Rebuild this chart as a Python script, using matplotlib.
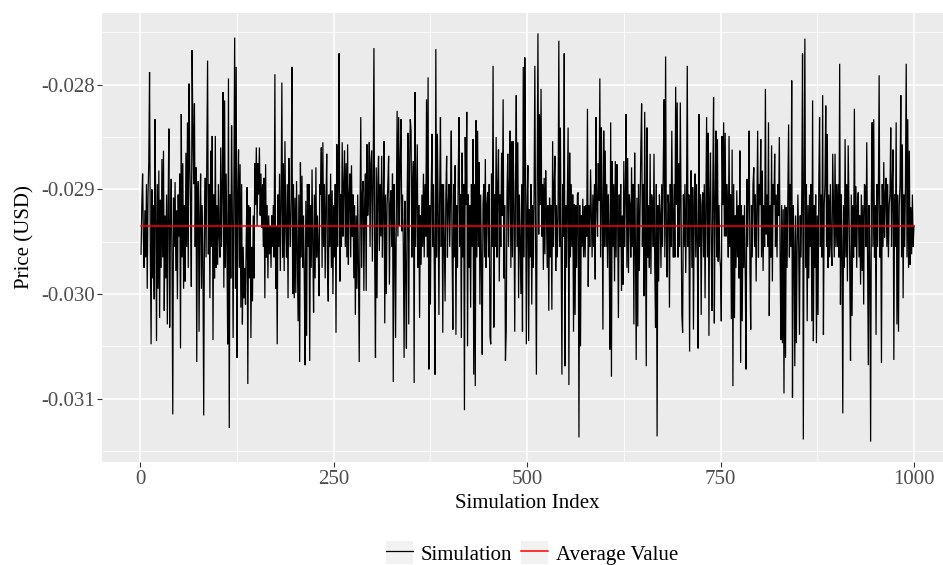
import numpy as np
import matplotlib
matplotlib.use("Agg")
import matplotlib.pyplot as plt
from matplotlib.patches import Rectangle
from matplotlib.lines import Line2D
from matplotlib.legend_handler import HandlerTuple

# ---------------- data ----------------
# simulated price = base_price + deviation * 1e-5 (USD)
base_price = -0.02935
average_value = -0.029353

dev_001_100 = [
    -27, 20, 50, -10, -40, 15, -30, 40, -60, 30,
    60, 147, -20, -113, 35, -50, 20, -70, 102, 10,
    -110, 40, -60, 53, -88, 25, -40, 64, -30, 72,
    -81, 10, -50, 30, -94, 20, 93, -97, 0, 45,
    -30, -180, 27, -20, 42, -43, 15, -70, 30, -10,
    50, -117, 107, -30, 60, -60, 20, -53, 70, -20,
    99, -40, 136, 60, 20, -58, 168, 90, 40, 117,
    -20, 56, -130, 30, 43, -101, 10, 50, -60, 20,
    -40, -181, 8, 46, -30, 60, 158, -27, 40, -69,
    72, -20, 86, -109, 30, -50, 86, -40, 20, -37]
dev_101_200 = [
    40, -10, -30, 75, -20, 40, 128, -59, 120, -40,
    50, -20, -113, 141, -193, 30, -50, 96, 10, -107,
    40, 180, -60, 152, -126, 30, 73, -40, 59, -78,
    40, -94, -20, -69, -40, -75, -10, 37, -151, 20,
    -50, 18, -107, -20, -72, 10, -50, 60, 20, 75,
    0, 60, 30, 75, 10, 50, -2, 40, -20, 46,
    -69, 59, -30, 20, -50, 10, -27, 0, -40, 10,
    -20, 20, -30, 145, -60, 0, -113, 30, -20, 50,
    -43, 20, 137, -30, 60, -43, 81, 0, -30, 40,
    -69, 65, 10, -20, 30, 152, -65, 40, -69, 27]
dev_201_300 = [
    -64, 43, -20, -91, 30, -130, 61, -30, 48, -40,
    10, -50, -133, 24, -105, 40, -20, 40, -129, 20,
    -40, 54, -20, -83, 30, -50, 56, -30, 10, -20,
    -67, 40, 30, 75, -40, 80, -20, 40, -50, 20,
    69, -40, -72, 30, -20, 50, -40, 34, -65, 20,
    -30, 40, -102, 78, -20, 40, 165, -53, 30, -20,
    80, -10, 40, 72, -20, 60, -30, 78, -37, 30,
    50, -30, 58, -10, 30, -50, 20, -85, 10, -60,
    30, -40, -130, 5, 104, -40, 30, 43, -62, 20,
    50, -62, 78, 10, 30, 80, -20, 60, 72, -34]
dev_301_400 = [
    40, 170, -30, -126, 56, -69, 40, 67, -24, 40,
    -10, 67, -30, 20, 81, -93, 30, -65, 20, 40,
    67, -56, 20, 34, -20, 50, -149, 40, -20, -107,
    20, 110, -10, 104, 0, 60, 102, -5, 30, -20,
    -126, 24, -40, -117, 30, 89, -94, 50, 102, 91,
    -30, 40, 62, -150, 128, -20, 30, 78, -40, 20,
    -88, 10, -37, 30, -20, 50, -30, 40, -10, 121,
    -30, 142, -137, 20, -75, 30, 88, -20, 40, -40,
    -142, 169, -30, 88, 20, -85, 30, 104, -20, 40,
    -102, 40, -20, -72, 30, 67, -30, 19, 40, -20]
dev_401_500 = [
    30, 91, -20, -99, 40, -30, 58, -104, 20, -40,
    50, 104, -20, 30, -107, 70, -30, 40, -176, 85,
    20, 109, -115, 30, -40, 20, -78, 40, -20, 83,
    -142, 40, -153, 101, -30, 91, -20, 61, -75, 30,
    -40, -123, 20, 40, -30, 64, -40, 20, 32, -30,
    40, -105, -113, 50, -20, 153, -97, 30, -20, 85,
    -30, 40, 73, -53, 30, -20, 70, 10, 121, -50,
    20, -129, -101, 30, 69, -20, 40, 91, -40, 81,
    -30, 81, 20, -101, 40, 125, -20, 80, -69, 30,
    -20, -65, 40, -101, 152, -30, 161, 58, -113, 20]
dev_501_600 = [
    58, -110, 16, -30, 40, -75, 20, -40, 30, 153,
    -20, -142, 40, 184, -8, 107, 20, 131, -10, 40,
    -42, 46, -27, 53, 10, -40, 20, -81, 27, -30,
    20, -80, 81, -20, 40, 67, -43, 20, -30, 10,
    177, -20, 94, -30, -142, 40, -10, 165, -134, 20,
    -40, 30, 94, -152, 70, -30, 40, -20, 30, -101,
    21, -85, 20, -40, 30, 32, -202, 20, -115, 10,
    -20, 26, -30, 19, -30, 20, -10, 112, -58, 20,
    -20, 54, 10, -30, 30, -20, 40, -51, 104, 20,
    -10, 60, 24, 141, -30, 94, 20, -99, 91, -20]
dev_601_700 = [
    72, -20, 40, -40, 30, -10, -118, 99, -144, 62,
    -20, 40, -53, 62, -30, 59, 10, -88, 30, -20,
    40, -62, 10, -56, 62, -20, 30, 107, -40, 65,
    -45, 30, 20, -30, 56, -20, 40, -94, 70, -20,
    -128, 27, -96, 40, -43, 20, 75, 117, -20, 40,
    -67, 109, -20, -134, 94, -30, 20, -40, 69, -46,
    30, 20, -20, 69, -40, -97, 40, -201, 20, -53,
    30, 11, -40, 40, -20, 56, 121, -30, 162, -10,
    -49, 30, 20, -78, 40, -20, 91, 10, -30, 40,
    -30, 133, 20, 118, -30, 60, -20, 118, 20, -85]
dev_701_800 = [
    -102, 30, -20, 40, -45, 20, 153, -20, 30, -120,
    20, 53, -40, 37, -99, 20, 50, -30, 40, -20,
    -117, 107, -20, 30, -85, 20, 32, -30, 40, -69,
    20, 104, -30, 89, -105, 30, 70, -20, -81, 40,
    123, -93, 20, 91, -30, 83, -34, 20, -30, -40,
    -91, 86, 20, 99, -10, 89, -10, 40, 20, -30,
    86, -20, 30, -89, 73, -153, 40, -88, 10, -40,
    34, -30, 20, -50, 72, -131, 20, -91, 10, -40,
    20, -50, -137, 45, -20, 30, 91, -40, -99, 20,
    -30, 40, 56, -20, 30, -53, 20, 91, -30, 40]
dev_801_900 = [
    20, 83, -30, 53, -43, 20, -20, 131, -8, 30,
    -20, 99, -86, 20, -30, 77, -53, 40, 20, 69,
    -20, 30, -30, 40, 10, 85, -30, -109, 20, -112,
    16, -160, 20, -126, 18, -40, 30, 97, -30, 40,
    -20, 139, -164, 20, -18, -134, 10, -112, -19, 30,
    -20, -104, 10, -30, 30, 165, -204, 40, 179, -40,
    40, -91, 20, -50, 30, -20, 40, -91, 120, -110,
    20, -40, 30, -112, 10, -85, 40, 104, -20, 30,
    -30, 125, -104, 20, 40, 115, -20, 88, -40, 30,
    -30, 40, -20, -38, 69, 20, -30, 69, -20, 40]
dev_901_1000 = [
    -20, 40, -30, 155, -75, 30, -20, -179, 20, -40,
    83, -30, 40, -53, 77, 20, -40, -129, 30, -86,
    20, -30, 112, -20, 38, -40, 20, 32, -30, 10,
    -56, 30, -43, 20, -75, 40, 38, -20, 80, -30,
    -133, 20, -40, -206, 30, 99, -20, 102, -30, 20,
    -104, 40, -20, 30, 144, -30, 20, -131, 40, -20,
    61, -11, 30, 46, -20, 40, -30, 20, 30, 94,
    -20, 40, 73, -128, 30, -20, 99, -94, 30, -101,
    20, 40, 125, -30, 78, -69, 30, -20, 40, 155,
    -30, 102, -40, 72, -37, 18, -27, 30, -20, 0]

x_ticks = [0, 250, 500, 750, 1000]
y_ticks = [-0.031, -0.030, -0.029, -0.028]
x_minor = [125, 375, 625, 875]
y_minor = [-0.0315, -0.0305, -0.0295, -0.0285, -0.0275]
legend_labels = ["Simulation", "Average Value"]

# ---------------- build series ----------------
dev = np.concatenate([dev_001_100, dev_101_200, dev_201_300, dev_301_400,
                      dev_401_500, dev_501_600, dev_601_700, dev_701_800,
                      dev_801_900, dev_901_1000]).astype(float)
price = base_price + dev * 1e-5
index = np.arange(1, len(price) + 1)

# ---------------- plot ----------------
plt.rcParams['font.family'] = ['Liberation Serif', 'DejaVu Serif']
plt.rcParams['axes.unicode_minus'] = False

W, H = 943, 565
fig = plt.figure(figsize=(W / 100, H / 100), dpi=100)
fig.patch.set_facecolor('white')
ax = fig.add_axes([102.4 / W, 1 - 462 / H, (952.6 - 102.4) / W, (462 - 13) / H])
ax.set_facecolor('#EBEBEB')
for s in ax.spines.values():
    s.set_visible(False)

ax.plot(index, price, color='black', lw=0.9, solid_joinstyle='miter')
ax.plot(index, np.full_like(price, average_value), color='#FF0000', lw=1.1)

xr = index.max() - index.min()
ax.set_xlim(index.min() - 0.05 * xr, index.max() + 0.05 * xr)
yr = price.max() - price.min()
ax.set_ylim(price.min() - 0.05 * yr, price.max() + 0.05 * yr)

ax.set_xticks(x_ticks)
ax.set_xticklabels([str(t) for t in x_ticks])
ax.set_yticks(y_ticks)
ax.set_yticklabels([f"{t:.3f}" for t in y_ticks])
ax.set_xticks(x_minor, minor=True)
ax.set_yticks(y_minor, minor=True)

ax.set_axisbelow(True)
ax.grid(which='major', color='white', lw=1.1)
ax.grid(which='minor', color='white', lw=0.55)
ax.tick_params(which='major', length=3.5, width=0.8, color='#333333',
               labelcolor='#4D4D4D', labelsize=15, pad=2)
ax.tick_params(which='minor', length=0)

ax.set_xlabel('Simulation Index', fontsize=15, labelpad=4, color='black')
ax.set_ylabel('Price (USD)', fontsize=15, labelpad=5, color='black')

handles = [
    (Rectangle((0, 0), 1, 1, facecolor='#F2F2F2', edgecolor='none'),
     Line2D([], [], color='black', lw=0.9)),
    (Rectangle((0, 0), 1, 1, facecolor='#F2F2F2', edgecolor='none'),
     Line2D([], [], color='#FF0000', lw=1.1)),
]
fig.legend(handles, legend_labels, handler_map={tuple: HandlerTuple(ndivide=1)},
           loc='center', bbox_to_anchor=(532 / W, 1 - 553 / H), ncol=2,
           frameon=False, fontsize=15, handlelength=1.3, handleheight=1.3,
           handletextpad=0.4, columnspacing=0.4, borderpad=0, borderaxespad=0)

fig.savefig('out.png', dpi=100)
